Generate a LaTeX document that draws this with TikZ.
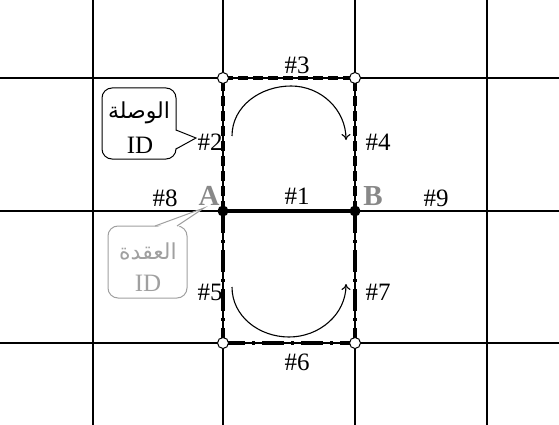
\documentclass[tikz,border=0pt]{standalone}
\usepackage{fontspec}
\setmainfont{Liberation Serif}
\newfontfamily\arabicfont[Script=Arabic]{DejaVu Sans}
\TeXXeTstate=1
\usetikzlibrary{arrows.meta}
\definecolor{lettergray}{HTML}{888888}
\definecolor{boxgray}{HTML}{A0A0A0}
\begin{document}
\begin{tikzpicture}[x=1pt,y=-1pt,
  gridline/.style={line width=1.2pt},
  lbl/.style={font=\fontsize{25}{25}\selectfont, inner sep=0pt},
  letter/.style={font=\fontsize{29}{29}\selectfont\bfseries, text=lettergray, inner sep=0pt},
  opendot/.style={circle, draw, fill=white, line width=1pt, minimum size=11pt, inner sep=0pt},
  fulldot/.style={circle, fill=black, minimum size=11pt, inner sep=0pt},
  dashedge/.style={line width=3.6pt, dash pattern=on 10pt off 5pt},
  dotdashedge/.style={line width=3.6pt, dash pattern=on 22pt off 7pt on 3pt off 7pt},
  solidedge/.style={line width=4.5pt},
  turn/.style={line width=1.1pt, -{To[length=6pt,width=9pt]}},
  callout/.style={draw, rounded corners=10pt, fill=white, line width=1pt},
]
\useasboundingbox (0,0) rectangle (559,425);
% grid coordinates
\coordinate (v1t) at (93,0);   \coordinate (v1b) at (93,425);
\coordinate (v2t) at (223,0);  \coordinate (v2b) at (223,425);
\coordinate (v3t) at (355,0);  \coordinate (v3b) at (355,425);
\coordinate (v4t) at (487,0);  \coordinate (v4b) at (487,425);
\coordinate (h1l) at (0,78);   \coordinate (h1r) at (559,78);
\coordinate (h2l) at (0,211);  \coordinate (h2r) at (559,211);
\coordinate (h3l) at (0,343);  \coordinate (h3r) at (559,343);
\draw[gridline] (v1t) -- (v1b) (v2t) -- (v2b) (v3t) -- (v3b) (v4t) -- (v4b);
\draw[gridline] (h1l) -- (h1r) (h2l) -- (h2r) (h3l) -- (h3r);
% intersections
\coordinate (A) at (223,211);
\coordinate (B) at (355,211);
\coordinate (C) at (223,78);
\coordinate (D) at (355,78);
\coordinate (E) at (223,343);
\coordinate (F) at (355,343);
% edges
\draw[dashedge] (A) -- (C);
\draw[dashedge] (C) -- (D);
\draw[dashedge] (B) -- (D);
\draw[dotdashedge] (A) -- (E);
\draw[dotdashedge] (E) -- (F);
\draw[dotdashedge] (B) -- (F);
\draw[solidedge] (A) -- (B);
% dots
\node[opendot] (nC) at (C) {};
\node[opendot] (nD) at (D) {};
\node[opendot] (nE) at (E) {};
\node[opendot] (nF) at (F) {};
\node[fulldot] (nA) at (A) {};
\node[fulldot] (nB) at (B) {};
% turning arrows
\coordinate (u1) at (232,136); \coordinate (u2) at (291,86); \coordinate (u3) at (346,140);
\draw[turn] (u1) to[out=90,in=180] (u2) to[out=0,in=90] (u3);
\coordinate (l1) at (232,287); \coordinate (l2) at (289,337); \coordinate (l3) at (346,284);
\draw[turn] (l1) to[out=-90,in=180] (l2) to[out=0,in=-90] (l3);
% labels
\node[lbl] (t3) at (297,65) {\#3};
\node[lbl] (t2) at (210,142) {\#2};
\node[lbl] (t4) at (378,142) {\#4};
\node[lbl] (t8) at (165,198) {\#8};
\node[lbl] (t1) at (297,196) {\#1};
\node[lbl] (t9) at (436,198) {\#9};
\node[lbl] (t5) at (210,292) {\#5};
\node[lbl] (t7) at (378,292) {\#7};
\node[lbl] (t6) at (297,362) {\#6};
\node[letter] (la) at (209,196) {A};
\node[letter] (lb) at (373,196) {B};
% callout: link
\draw[callout] (102,88) rectangle (176,159);
\coordinate (p1a) at (176,130); \coordinate (p1t) at (196,138); \coordinate (p1b) at (176,149);
\fill[white] (174,130) -- (p1t) -- (174,149) -- cycle;
\draw[line width=1pt] (p1a) -- (p1t) -- (p1b);
\node[inner sep=0pt, font=\fontsize{22}{22}\arabicfont] (ar1) at (139,113) {\beginR الوصلة\endR};
\node[lbl] (id1) at (140,145) {ID};
% callout: node
\draw[callout, draw=boxgray] (108,226) rectangle (187,298);
\coordinate (p2a) at (155,226); \coordinate (p2t) at (204,208); \coordinate (p2b) at (177,226);
\fill[white] (155,228) -- (p2t) -- (177,228) -- cycle;
\draw[line width=1pt, boxgray] (p2a) -- (p2t) -- (p2b);
\node[inner sep=0pt, font=\fontsize{22}{22}\arabicfont, text=boxgray] (ar2) at (148,251) {\beginR العقدة\endR};
\node[lbl, text=boxgray] (id2) at (148,283) {ID};
\end{tikzpicture}
\end{document}
